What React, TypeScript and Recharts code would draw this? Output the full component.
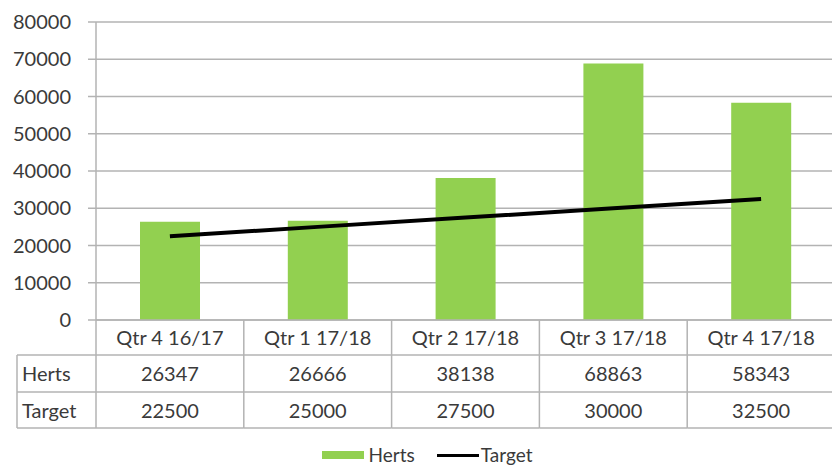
import React from 'react';
import {
  ComposedChart,
  Bar,
  Line,
  XAxis,
  YAxis,
  CartesianGrid,
  Legend,
} from 'recharts';

document.body.style.margin = '0';

const categories = ['Qtr 4 16/17', 'Qtr 1 17/18', 'Qtr 2 17/18', 'Qtr 3 17/18', 'Qtr 4 17/18'];
const hertsValues = [26347, 26666, 38138, 68863, 58343];
const targetValues = [22500, 25000, 27500, 30000, 32500];
const yTicks = [0, 10000, 20000, 30000, 40000, 50000, 60000, 70000, 80000];

const data = categories.map((name, i) => ({
  name,
  Herts: hertsValues[i],
  Target: targetValues[i],
}));

const GREEN = '#92d050';
const GRID = '#b3b3b3';
const TEXT = '#3a3a3a';
const FONT = 'Lato, "Open Sans", sans-serif';

const CHART_W = 835;
const PLOT_LEFT = 96;
const PLOT_BOTTOM = 320;
const ROW_H = [35, 37, 36];
const TABLE_LEFT = 17;
const BAND = (CHART_W - PLOT_LEFT) / categories.length;

function TableTick(props: any) {
  const { x, index, payload } = props;
  const left = x - BAND / 2;
  const right = x + BAND / 2;
  const y0 = PLOT_BOTTOM;
  const y1 = y0 + ROW_H[0];
  const y2 = y1 + ROW_H[1];
  const y3 = y2 + ROW_H[2];
  const textProps = { fontFamily: FONT, fontSize: 20, fill: TEXT, textAnchor: 'middle' as const };
  return (
    <g>
      {index === 0 && (
        <g>
          <line x1={TABLE_LEFT} y1={y1} x2={left} y2={y1} stroke={GRID} strokeWidth={1.5} />
          <line x1={TABLE_LEFT} y1={y2} x2={left} y2={y2} stroke={GRID} strokeWidth={1.5} />
          <line x1={TABLE_LEFT} y1={y3} x2={left} y2={y3} stroke={GRID} strokeWidth={1.5} />
          <line x1={TABLE_LEFT} y1={y1} x2={TABLE_LEFT} y2={y3} stroke={GRID} strokeWidth={1.5} />
          <line x1={left} y1={y0} x2={left} y2={y3} stroke={GRID} strokeWidth={1.5} />
          <text x={TABLE_LEFT + 5} y={y1 + 26} fontFamily={FONT} fontSize={20} fill={TEXT}>Herts</text>
          <text x={TABLE_LEFT + 5} y={y2 + 26} fontFamily={FONT} fontSize={20} fill={TEXT}>Target</text>
        </g>
      )}
      <line x1={left} y1={y1} x2={right} y2={y1} stroke={GRID} strokeWidth={1.5} />
      <line x1={left} y1={y2} x2={right} y2={y2} stroke={GRID} strokeWidth={1.5} />
      <line x1={left} y1={y3} x2={right} y2={y3} stroke={GRID} strokeWidth={1.5} />
      <line x1={right} y1={y0} x2={right} y2={y3} stroke={GRID} strokeWidth={1.5} />
      <text x={x} y={y0 + 25} {...textProps}>{payload.value}</text>
      <text x={x} y={y1 + 26} {...textProps}>{hertsValues[index]}</text>
      <text x={x} y={y2 + 26} {...textProps}>{targetValues[index]}</text>
    </g>
  );
}

function LegendContent() {
  return (
    <div
      style={{
        height: 37,
        width: 832,
        display: 'flex',
        justifyContent: 'center',
        alignItems: 'center',
        paddingTop: 15,
        paddingBottom: 2,
        paddingRight: 10,
        boxSizing: 'border-box',
        fontFamily: FONT,
        fontSize: 19,
        lineHeight: '20px',
        color: TEXT,
      }}
    >
      <span style={{ display: 'inline-block', width: 42, height: 8, background: GREEN, marginRight: 5 }} />
      <span style={{ marginRight: 22 }}>Herts</span>
      <span style={{ display: 'inline-block', width: 42, height: 3, background: '#000', marginRight: 2 }} />
      <span>Target</span>
    </div>
  );
}

export default function App() {
  return (
    <div style={{ width: 832, height: 467, overflow: 'hidden', background: '#fff' }}>
      <ComposedChart
        width={CHART_W}
        height={467}
        data={data}
        margin={{ top: 22, right: 0, bottom: 0, left: 16 }}
      >
        <CartesianGrid vertical={false} stroke={GRID} strokeWidth={1.5} />
        <XAxis
          dataKey="name"
          height={110}
          axisLine={{ stroke: GRID, strokeWidth: 1.5 }}
          tickLine={false}
          tick={<TableTick />}
          interval={0}
        />
        <YAxis
          width={80}
          domain={[0, 80000]}
          ticks={yTicks}
          axisLine={{ stroke: GRID, strokeWidth: 1.5 }}
          tickLine={{ stroke: GRID, strokeWidth: 1.5 }}
          tickSize={8}
          tickMargin={17}
          tick={{ fontFamily: FONT, fontSize: 20, fill: TEXT }}
        />
        <Bar dataKey="Herts" fill={GREEN} barSize={60} isAnimationActive={false} />
        <Line
          dataKey="Target"
          stroke="#000"
          strokeWidth={4}
          dot={false}
          type="linear"
          isAnimationActive={false}
        />
        <Legend verticalAlign="bottom" content={<LegendContent />} />
      </ComposedChart>
    </div>
  );
}
